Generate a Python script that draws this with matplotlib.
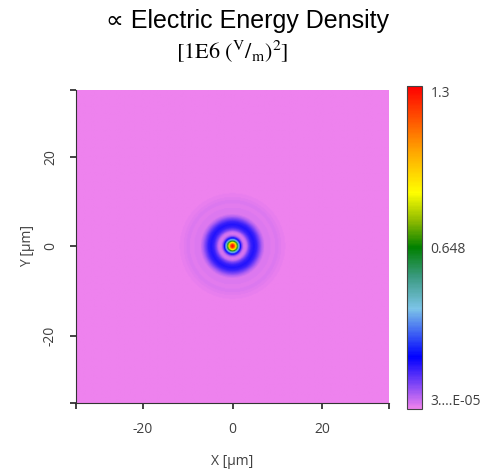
import numpy as np
import matplotlib.pyplot as plt
from matplotlib.colors import LinearSegmentedColormap

# radial profile of the field (r in um)
radius = [0.0, 0.4, 0.8, 1.2, 1.6, 2.0, 2.4, 2.8, 3.2, 3.6, 4.2, 4.8, 5.4,
          6.0, 6.6, 7.2, 8.0, 9.0, 10.0, 11.0, 12.0, 15.0, 20.0, 50.0]
energy = [1.296, 1.2, 0.9, 0.55, 0.3, 0.13, 0.04, 0.02, 0.04, 0.1, 0.16,
          0.18, 0.16, 0.11, 0.055, 0.02, 0.02, 0.012, 0.018, 0.01, 0.004,
          0.002, 0.0008, 0.00003]
vmin, vmax = 3.0e-05, 1.296
cbar_ticks = [vmin, 0.648, vmax]
cbar_labels = ['3....E-05', '0.648', '1.3']
xy_ticks = [-20, 0, 20]
extent = 35

cmap = LinearSegmentedColormap.from_list('field', [
    (0.0, '#ee82ee'), (0.16, '#0000ff'), (0.31, '#7cc4e8'), (0.41, '#3a9a80'),
    (0.5, '#008000'), (0.58, '#8ab800'), (0.67, '#ffff00'), (0.8, '#ffa500'),
    (1.0, '#ff0000')])

x = np.linspace(-extent, extent, 351)
X, Y = np.meshgrid(x, x)
Z = np.interp(np.hypot(X, Y), radius, energy)

fig = plt.figure(figsize=(5, 4.76), dpi=100)
ax = fig.add_axes([0.152, 0.1534, 0.626, 0.6576])
im = ax.imshow(Z, origin='lower', extent=[-extent, extent, -extent, extent],
               cmap=cmap, vmin=vmin, vmax=vmax, interpolation='bilinear', aspect='auto')

tick_color = '#404040'
ax.set_xticks([-extent] + xy_ticks + [extent])
ax.set_xticklabels([''] + [str(t) for t in xy_ticks] + [''])
ax.set_yticks([-extent] + xy_ticks + [extent])
ax.set_yticklabels([''] + [str(t) for t in xy_ticks] + [''], rotation=90, va='center')
ax.tick_params(direction='out', length=4, width=1.2, color='#222222',
               labelcolor=tick_color, labelsize=10)
ax.tick_params(axis='x', pad=10)
ax.tick_params(axis='y', pad=9)
for lab in ax.get_xticklabels() + ax.get_yticklabels():
    lab.set_family('Open Sans')
for s in ['top', 'right']:
    ax.spines[s].set_visible(False)
for s in ['left', 'bottom']:
    ax.spines[s].set_color('#333333')
ax.set_xlabel('X [µm]', family='Open Sans', fontsize=10, color=tick_color, labelpad=12)
ax.set_ylabel('Y [µm]', family='Open Sans', fontsize=10, color=tick_color, labelpad=6)

cax = fig.add_axes([0.814, 0.1408, 0.03, 0.678])
cb = fig.colorbar(im, cax=cax)
cb.set_ticks(cbar_ticks)
cb.set_ticklabels(cbar_labels)
cb.ax.tick_params(length=0, labelsize=10, labelcolor=tick_color, pad=6)
labs = cb.ax.get_yticklabels()
for lab in labs:
    lab.set_family('Open Sans')
labs[0].set_va('bottom')
labs[-1].set_va('top')
cb.outline.set_edgecolor('#444444')

plt.rcParams['mathtext.fontset'] = 'stix'
fig.text(0.494, 0.955, '∝ Electric Energy Density', ha='center', va='center',
         family=['Liberation Sans', 'DejaVu Sans'], fontsize=18)
fig.text(0.465, 0.893, r'$[1\mathrm{E}6\ (^{\mathrm{V}}/_{\mathrm{m}})^{2}]$',
         ha='center', va='center', fontsize=16)

fig.savefig('out.png', dpi=100)
